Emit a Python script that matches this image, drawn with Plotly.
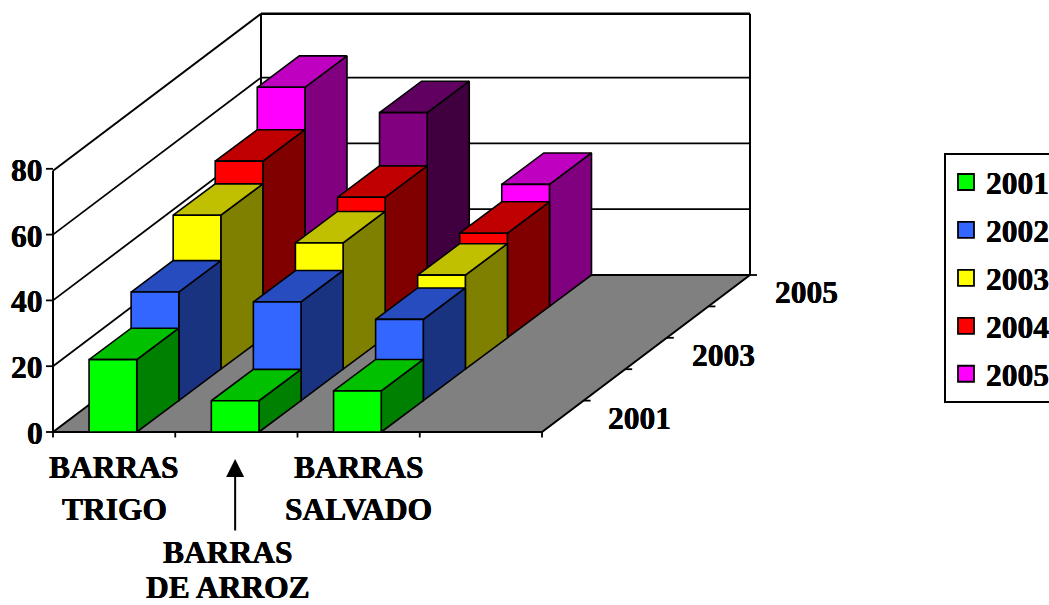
import plotly.graph_objects as go

# Sales-style series per product line, one list per year
years = ["2001", "2002", "2003", "2004", "2005"]
values_2001 = [22, 9.5, 12.5]
values_2002 = [33, 30, 24.7]
values_2003 = [46.8, 38.4, 28.6]
values_2004 = [53.7, 42.7, 31.8]
values_2005 = [66.6, 58.9, 37.1]
series_values = [values_2001, values_2002, values_2003, values_2004, values_2005]
value_ticks = [0, 20, 40, 60, 80]
depth_labels = ["2001", "2003", "2005"]

# (front, top, side) shades for each series
shades = [
    ("#00FF00", "#00C000", "#008000"),
    ("#3366FF", "#264CBF", "#1A3380"),
    ("#FFFF00", "#C0C000", "#808000"),
    ("#FF0000", "#C00000", "#800000"),
    ("#FF00FF", "#C000C0", "#800080"),
]
# The middle 2005 bar is painted in a darker purple
purple_shades = ("#800080", "#600060", "#400040")

# Oblique projection of the chart box onto the page
X0, Y0 = 53.0, 432.0
CAT_W = 122.25
N_CATS = 4
D_X, D_Y = 41.6, -31.4
UNIT = 3.29
WALL_TOP = 79.4
BAR_START, BAR_W = 0.295, 0.39
BAR_SLIP = 0.45 / CAT_W  # bars lean a touch further right per row than the floor
FONT = "Liberation Serif"
FONT_SIZE = 31.5
HEAVY = "0.35px 0 0 black, -0.35px 0 0 black"


def project(cat, depth, value):
    """cat in category units, depth in series units, value in chart units."""
    return X0 + cat * CAT_W + depth * D_X, Y0 + depth * D_Y - value * UNIT


def polygon(points, fill, width=1.6):
    xs, ys = zip(*(project(*p) for p in points))
    return go.Scatter(
        x=list(xs) + [xs[0]], y=list(ys) + [ys[0]], mode="lines", fill="toself",
        fillcolor=fill, line=dict(color="black", width=width),
        hoverinfo="skip", showlegend=False,
    )


def segment(a, b, width=1.8):
    xs, ys = zip(project(*a), project(*b))
    return go.Scatter(
        x=list(xs), y=list(ys), mode="lines", line=dict(color="black", width=width),
        hoverinfo="skip", showlegend=False,
    )


fig = go.Figure()
D = len(years)

# Floor and walls
fig.add_trace(polygon([(0, 0, 0), (N_CATS, 0, 0), (N_CATS, D, 0), (0, D, 0)], "#808080", 2))
fig.add_trace(segment((0, 0, 0), (0, 0, WALL_TOP), 2))
fig.add_trace(segment((0, D, 0), (0, D, WALL_TOP), 2))
fig.add_trace(segment((N_CATS, D, 0), (N_CATS, D, WALL_TOP), 2))
for v in value_ticks[1:-1]:
    fig.add_trace(segment((0, 0, v), (0, D, v)))
    fig.add_trace(segment((0, D, v), (N_CATS, D, v)))
fig.add_trace(segment((0, 0, WALL_TOP), (0, D, WALL_TOP), 2))
fig.add_trace(segment((0, D, WALL_TOP), (N_CATS, D, WALL_TOP), 2.4))

# Bars, painted from the back row forward
for s in reversed(range(D)):
    for c, v in enumerate(series_values[s]):
        front, top, side = purple_shades if (s == 4 and c == 1) else shades[s]
        l0 = c + BAR_START + s * BAR_SLIP
        r0 = l0 + BAR_W
        l1 = l0 + BAR_SLIP
        r1 = r0 + BAR_SLIP
        fig.add_trace(polygon([(r0, s, 0), (r1, s + 1, 0), (r1, s + 1, v), (r0, s, v)], side))
        fig.add_trace(polygon([(l0, s, v), (r0, s, v), (r1, s + 1, v), (l1, s + 1, v)], top))
        fig.add_trace(polygon([(l0, s, 0), (r0, s, 0), (r0, s, v), (l0, s, v)], front))

# Axis tick marks
TICK_X = 7 / CAT_W
TICK_V = 5.5 / UNIT
for v in value_ticks:
    fig.add_trace(segment((-TICK_X, 0, v), (0, 0, v)))
for c in range(N_CATS + 1):
    fig.add_trace(segment((c, 0, 0), (c, 0, -TICK_V)))
for k in range(1, D + 1):
    fig.add_trace(segment((N_CATS, k, 0), (N_CATS + TICK_X, k, 0)))

annotations = []


def label(text, x, y, xanchor="center"):
    annotations.append(dict(
        x=x, y=y, xref="x", yref="y", text=f"<b>{text}</b>", showarrow=False,
        xanchor=xanchor, yanchor="middle",
        font=dict(family=FONT, size=FONT_SIZE, color="black", shadow=HEAVY),
    ))


for v in value_ticks:
    px, py = project(0, 0, v)
    label(str(v), px - 8, py + 1.5, "right")

for text, cat, y in [
    ("BARRAS", 0.5, 467), ("TRIGO", 0.5, 509),
    ("BARRAS", 1.43, 552), ("DE ARROZ", 1.43, 587.5),
    ("BARRAS", 2.5, 467), ("SALVADO", 2.5, 509),
]:
    label(text, project(cat, 0, 0)[0], y)

for text, depth in zip(depth_labels, [0.5, 2.5, 4.5]):
    px, py = project(N_CATS, depth, 0)
    label(text, px + 77, py + 2)

# Arrow from the lower category label up to its bars
arrow_x = project(1.49, 0, 0)[0]
annotations.append(dict(
    x=arrow_x, y=459, ax=arrow_x, ay=532, xref="x", yref="y", axref="x", ayref="y",
    text="", showarrow=True, arrowhead=2, arrowsize=1.8, arrowwidth=2, arrowcolor="black",
))

# Legend entries
for s, year in enumerate(years):
    fig.add_trace(go.Scatter(
        x=[None], y=[None], mode="markers", name=year, legendgroup=year,
        marker=dict(symbol="square", size=17, color=shades[s][0],
                    line=dict(color="black", width=1.8)),
    ))

fig.update_layout(
    width=1049, height=605,
    margin=dict(l=0, r=0, t=0, b=0, autoexpand=False),
    paper_bgcolor="white", plot_bgcolor="white",
    xaxis=dict(range=[0, 1049], visible=False, fixedrange=True),
    yaxis=dict(range=[605, 0], visible=False, fixedrange=True),
    annotations=annotations,
    legend=dict(
        x=944 / 1049, y=1 - 153 / 605, xanchor="left", yanchor="top",
        bordercolor="black", borderwidth=2, bgcolor="white",
        font=dict(family=FONT, size=FONT_SIZE, color="black", weight="bold", shadow=HEAVY),
        tracegroupgap=4, itemwidth=30,
    ),
)

fig.write_html("out.html", config={"displayModeBar": False})
